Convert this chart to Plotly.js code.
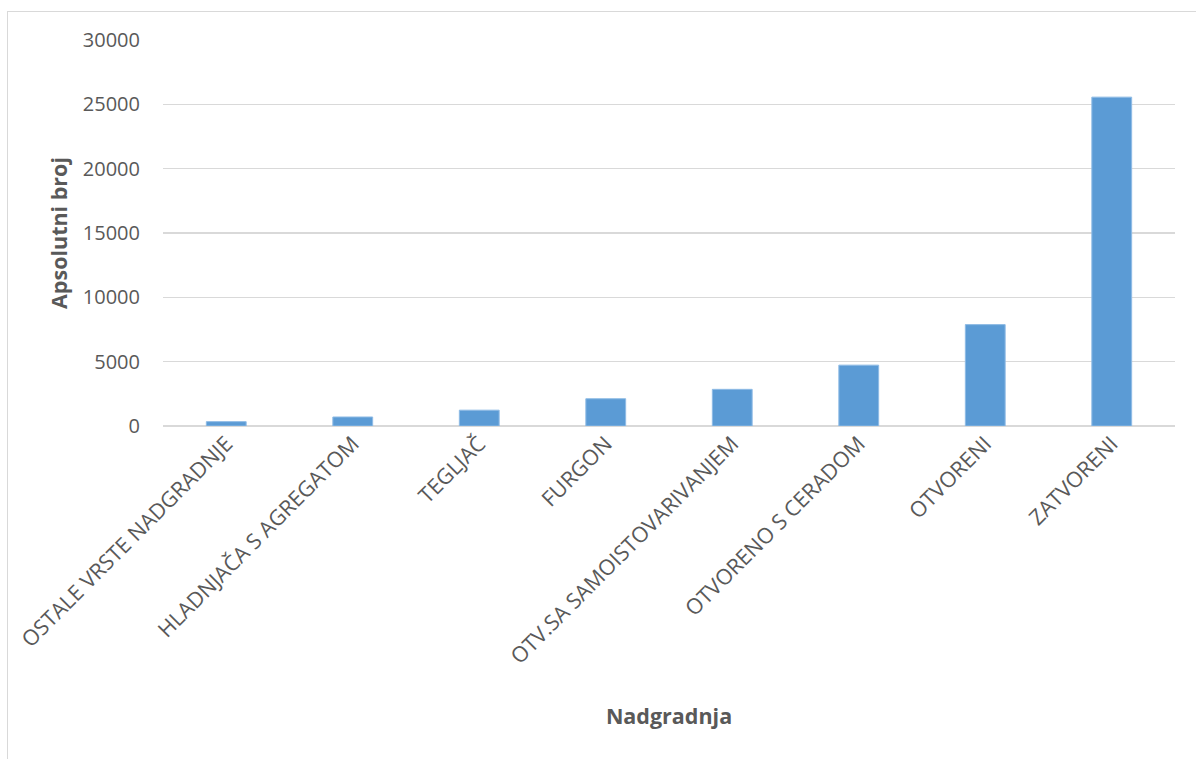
<!DOCTYPE html>
<html>
<head>
<meta charset="utf-8">
<script src="https://cdn.plot.ly/plotly-3.0.1.min.js"></script>
<style>
  html, body { margin: 0; padding: 0; background: #fff; overflow: hidden; }
  #frame { position: absolute; left: 7px; top: 11px; width: 1200px; height: 760px; border: 1.5px solid #d9d9d9; box-sizing: border-box; }
  #chart { position: absolute; left: 0; top: 0; width: 1196px; height: 759px; }
</style>
</head>
<body>
<div id="frame"></div>
<div id="chart"></div>
<script>
const categories = [
  "OSTALE VRSTE NADGRADNJE",
  "HLADNJAČA S AGREGATOM",
  "TEGLJAČ",
  "FURGON",
  "OTV.SA SAMOISTOVARIVANJEM",
  "OTVORENO S CERADOM",
  "OTVORENI",
  "ZATVORENI"
];
const values = [340, 700, 1230, 2120, 2850, 4730, 7880, 25560];
const yTicks = [0, 5000, 10000, 15000, 20000, 25000, 30000];

const font = "'Open Sans', sans-serif";

Plotly.newPlot("chart", [{
  type: "bar",
  x: categories,
  y: values,
  marker: { color: "#5b9bd5", line: { color: "#8fbbe5", width: 1 } },
  hoverinfo: "x+y"
}], {
  width: 1196,
  height: 759,
  paper_bgcolor: "rgba(0,0,0,0)",
  plot_bgcolor: "rgba(0,0,0,0)",
  margin: { l: 163, r: 21, t: 40, b: 333 },
  bargap: 0.685,
  showlegend: false,
  font: { family: font, color: "#595959", size: 20 },
  xaxis: {
    type: "category",
    tickangle: -45,
    showgrid: false,
    showline: false,
    ticks: "",
    tickfont: { family: font, size: 21.5, color: "#595959" },
    title: { text: "Nadgradnja", font: { family: font, size: 21.5, color: "#595959", weight: "bold" }, standoff: 40 }
  },
  yaxis: {
    range: [0, 30000],
    tickvals: yTicks,
    ticktext: yTicks.map(String),
    showgrid: true,
    gridcolor: "#d9d9d9",
    gridwidth: 1.5,
    zeroline: true,
    zerolinecolor: "#d9d9d9",
    zerolinewidth: 2,
    showline: false,
    ticks: "",
    ticklabelstandoff: 22,
    tickfont: { family: font, size: 20, color: "#595959" },
    title: { text: "Apsolutni broj", font: { family: font, size: 21.5, color: "#595959", weight: "bold" }, standoff: 9 }
  }
}, { displayModeBar: false, staticPlot: true });
</script>
</body>
</html>
